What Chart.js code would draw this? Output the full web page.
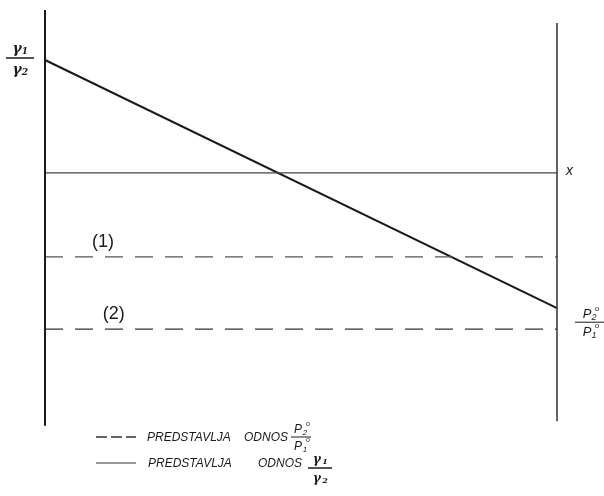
<!DOCTYPE html>
<html>
<head>
<meta charset="utf-8">
<script src="https://cdn.jsdelivr.net/npm/chart.js@4"></script>
<style>
  html, body { margin: 0; padding: 0; background: #fff; }
  #wrap { width: 604px; height: 496px; }
</style>
</head>
<body>
<div id="wrap"><canvas id="diagram" width="604" height="496"></canvas></div>
<script>
// horizontal positions (left axis .. right axis)
const xEnds = [0, 10];
// ratio gamma1/gamma2 (solid, falling)
const gammaRatio = [8.81, 2.90];
// the x level
const xLevel = [6.12, 6.12];
// ratio P2°/P1°, cases (1) and (2)
const pLevel1 = [4.12, 4.12];
const pLevel2 = [2.40, 2.40];
// vertical axes extents
const leftAxis = [10, 0.1];
const rightAxis = [9.69, 0.21];

const ink = "#1a1a1a";

function seg(xs, ys) {
  return xs.map((x, i) => ({ x: x, y: ys[i] }));
}

const labelsPlugin = {
  id: "labels",
  afterDraw(chart) {
    const c = chart.ctx;
    const xs = chart.scales.x;
    const ys = chart.scales.y;
    c.save();
    c.fillStyle = ink;
    c.strokeStyle = ink;

    function gFrac(cx, cy, w, size) {
      c.font = "italic bold " + size + "px 'DejaVu Serif'";
      c.textAlign = "center";
      c.textBaseline = "alphabetic";
      c.fillText("γ", cx - 3, cy - 5);
      c.fillText("γ", cx - 3, cy + size + 2);
      c.font = "italic bold " + Math.round(size * 0.65) + "px 'DejaVu Serif'";
      c.fillText("1", cx + 5, cy - 4);
      c.fillText("2", cx + 5, cy + size + 3);
      c.lineWidth = 1.5;
      c.beginPath(); c.moveTo(cx - w / 2, cy); c.lineTo(cx + w / 2, cy); c.stroke();
    }
    function pFrac(cx, cy, w, size) {
      c.font = "italic " + size + "px 'Liberation Sans'";
      c.textAlign = "center";
      c.textBaseline = "alphabetic";
      c.fillText("P", cx - 3, cy - 4);
      c.fillText("P", cx - 3, cy + size + 1);
      c.font = "italic " + Math.round(size * 0.7) + "px 'Liberation Sans'";
      c.fillText("2", cx + 4, cy - 2);
      c.fillText("1", cx + 4, cy + size + 3);
      c.font = Math.round(size * 0.6) + "px 'Liberation Sans'";
      c.fillText("o", cx + 7, cy - 11);
      c.fillText("o", cx + 7, cy + size - 7);
      c.lineWidth = 1;
      c.beginPath(); c.moveTo(cx - w / 2, cy); c.lineTo(cx + w / 2, cy); c.stroke();
    }

    // gamma1 / gamma2 at the left
    gFrac(20, ys.getPixelForValue(gammaRatio[0]) - 2, 28, 14);

    // x label at the right
    const xr = xs.getPixelForValue(xEnds[1]);
    c.font = "italic 14px 'Liberation Sans'";
    c.textAlign = "left";
    c.textBaseline = "middle";
    c.fillText("x", xr + 9, ys.getPixelForValue(xLevel[1]) - 2);

    // (1) and (2)
    c.font = "18px 'Liberation Sans'";
    c.textBaseline = "alphabetic";
    c.fillText("(1)", xs.getPixelForValue(0.92), ys.getPixelForValue(pLevel1[0]) - 10);
    c.fillText("(2)", xs.getPixelForValue(1.13), ys.getPixelForValue(pLevel2[0]) - 10);

    // P2° / P1° at the right
    pFrac(590, ys.getPixelForValue(pLevel2[1]) - 7, 30, 13);

    // legend
    c.lineWidth = 1.3;
    c.strokeStyle = "#333";
    c.setLineDash([11, 4]);
    c.beginPath(); c.moveTo(96, 437); c.lineTo(136, 437); c.stroke();
    c.setLineDash([]);
    c.lineWidth = 1;
    c.beginPath(); c.moveTo(96, 463); c.lineTo(136, 463); c.stroke();
    c.fillStyle = ink;
    c.strokeStyle = ink;
    c.font = "italic 12px 'Liberation Sans'";
    c.textAlign = "left";
    c.textBaseline = "middle";
    c.fillText("PREDSTAVLJA", 147, 438);
    c.fillText("ODNOS", 244, 438);
    c.fillText("PREDSTAVLJA", 148, 464);
    c.fillText("ODNOS", 258, 464);
    pFrac(301, 437, 20, 12);
    gFrac(320, 468, 24, 12);
    c.restore();
  }
};

new Chart(document.getElementById("diagram"), {
  type: "line",
  data: {
    datasets: [
      { data: seg([xEnds[0], xEnds[0]], leftAxis), borderColor: ink, borderWidth: 2 },
      { data: seg([xEnds[1], xEnds[1]], rightAxis), borderColor: "#333", borderWidth: 1.5 },
      { data: seg(xEnds, xLevel), borderColor: "#444", borderWidth: 1.2 },
      { data: seg(xEnds, pLevel1), borderColor: "#555", borderWidth: 1.3, borderDash: [18, 12] },
      { data: seg(xEnds, pLevel2), borderColor: "#333", borderWidth: 1.3, borderDash: [18, 12] },
      { data: seg(xEnds, gammaRatio), borderColor: ink, borderWidth: 2 }
    ]
  },
  options: {
    responsive: false,
    animation: false,
    clip: false,
    layout: { padding: { left: 45, right: 47, top: 10, bottom: 66 } },
    elements: { point: { radius: 0 }, line: { tension: 0 } },
    plugins: { legend: { display: false }, tooltip: { enabled: false } },
    scales: {
      x: { type: "linear", min: 0, max: 10, display: false },
      y: { type: "linear", min: 0, max: 10, display: false }
    }
  },
  plugins: [labelsPlugin]
});
</script>
</body>
</html>
